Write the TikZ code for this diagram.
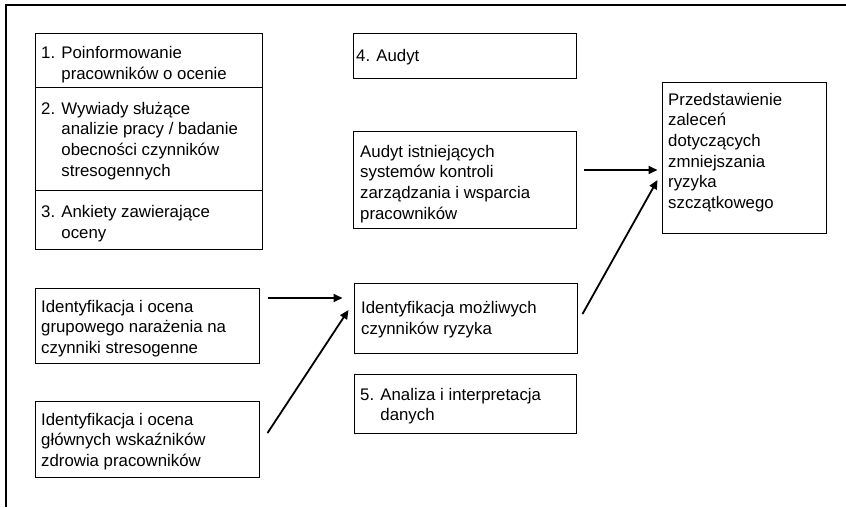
\documentclass[tikz,border=0pt]{standalone}
\usepackage{fontspec}
\setmainfont{Liberation Sans}
\usetikzlibrary{arrows.meta,calc}
% stacked lines with a fixed baseline distance; the node's baseline is the first line
\newcommand\txtlines[1]{\vtop{\baselineskip=20.7pt\lineskiplimit=-20pt\halign{##\hfil\cr#1\crcr}}}
\newcommand\hang{\hphantom{1. }}
\begin{document}
\begin{tikzpicture}[x=1pt,y=-1pt,
  box/.style={draw=black, line width=1pt, inner sep=0pt},
  txt/.style={anchor=base west, inner sep=0pt, font=\fontsize{16.8}{20.7}\selectfont},
  conn/.style={line width=1.8pt, -{Triangle[length=9pt,width=8pt]}}]
\useasboundingbox (0,0) rectangle (846,507);

% frame
\draw[line width=1.5pt] (6,507) -- (6,5) -- (846,5);

% left column
\node[box, minimum width=227pt, minimum height=54pt]  (inform) at (148.5,60) {};
\node[box, minimum width=227pt, minimum height=103pt] (wywiad) at (148.5,138.5) {};
\node[box, minimum width=227pt, minimum height=59pt]  (ankiet) at (148.5,219.5) {};
\node[box, minimum width=224pt, minimum height=75pt]  (grupa)  at (147,325.5) {};
\node[box, minimum width=224pt, minimum height=76pt]  (zdrow)  at (147,439) {};

% middle column
\node[box, minimum width=223pt, minimum height=45pt]  (audyt)  at (464.5,55.5) {};
\node[box, minimum width=223pt, minimum height=97pt]  (system) at (464.5,179.5) {};
\node[box, minimum width=223pt, minimum height=70pt]  (ryzyko) at (465.5,318) {};
\node[box, minimum width=222pt, minimum height=59pt]  (analiz) at (465,403.5) {};

% right column
\node[box, minimum width=164pt, minimum height=151pt] (zalec)  at (744,157.5) {};

% texts
\node[txt] (t-inform) at (41,58.7) {\txtlines{1. Poinformowanie\cr\hang pracowników o ocenie}};
\node[txt] (t-wywiad) at (41,114) {\txtlines{2. Wywiady służące\cr\hang analizie pracy / badanie\cr\hang obecności czynników\cr\hang stresogennych}};
\node[txt] (t-ankiet) at (41,217.5) {\txtlines{3. Ankiety zawierające\cr\hang oceny}};
\node[txt] (t-grupa)  at (41,312) {\txtlines{Identyfikacja i ocena\cr grupowego narażenia na\cr czynniki stresogenne}};
\node[txt] (t-zdrow)  at (41,425) {\txtlines{Identyfikacja i ocena\cr głównych wskaźników\cr zdrowia pracowników}};
\node[txt] (t-audyt)  at (356,61.7) {\txtlines{4. Audyt}};
\node[txt] (t-system) at (360,157) {\txtlines{Audyt istniejących\cr systemów kontroli\cr zarządzania i wsparcia\cr pracowników}};
\node[txt] (t-ryzyko) at (361,313.3) {\txtlines{Identyfikacja możliwych\cr czynników ryzyka}};
\node[txt] (t-analiz) at (360,400) {\txtlines{5. Analiza i interpretacja\cr\hang danych}};
\node[txt] (t-zalec)  at (668,105) {\txtlines{Przedstawienie\cr zaleceń\cr dotyczących\cr zmniejszania\cr ryzyka\cr szczątkowego}};

% connectors
\draw[conn] ($(system.east)+(7,-9.5)$) -- ($(zalec.west)+(-4,12.5)$);
\draw[conn] ($(ryzyko.east)+(5,-4)$) -- ($(zalec.west)+(-4,22.5)$);
\draw[conn] ($(grupa.east)+(8,-27.5)$) -- ($(ryzyko.west)+(-11,-20)$);
\draw[conn] ($(zdrow.east)+(8,-6)$) -- ($(ryzyko.west)+(-5,-8)$);
\end{tikzpicture}
\end{document}
